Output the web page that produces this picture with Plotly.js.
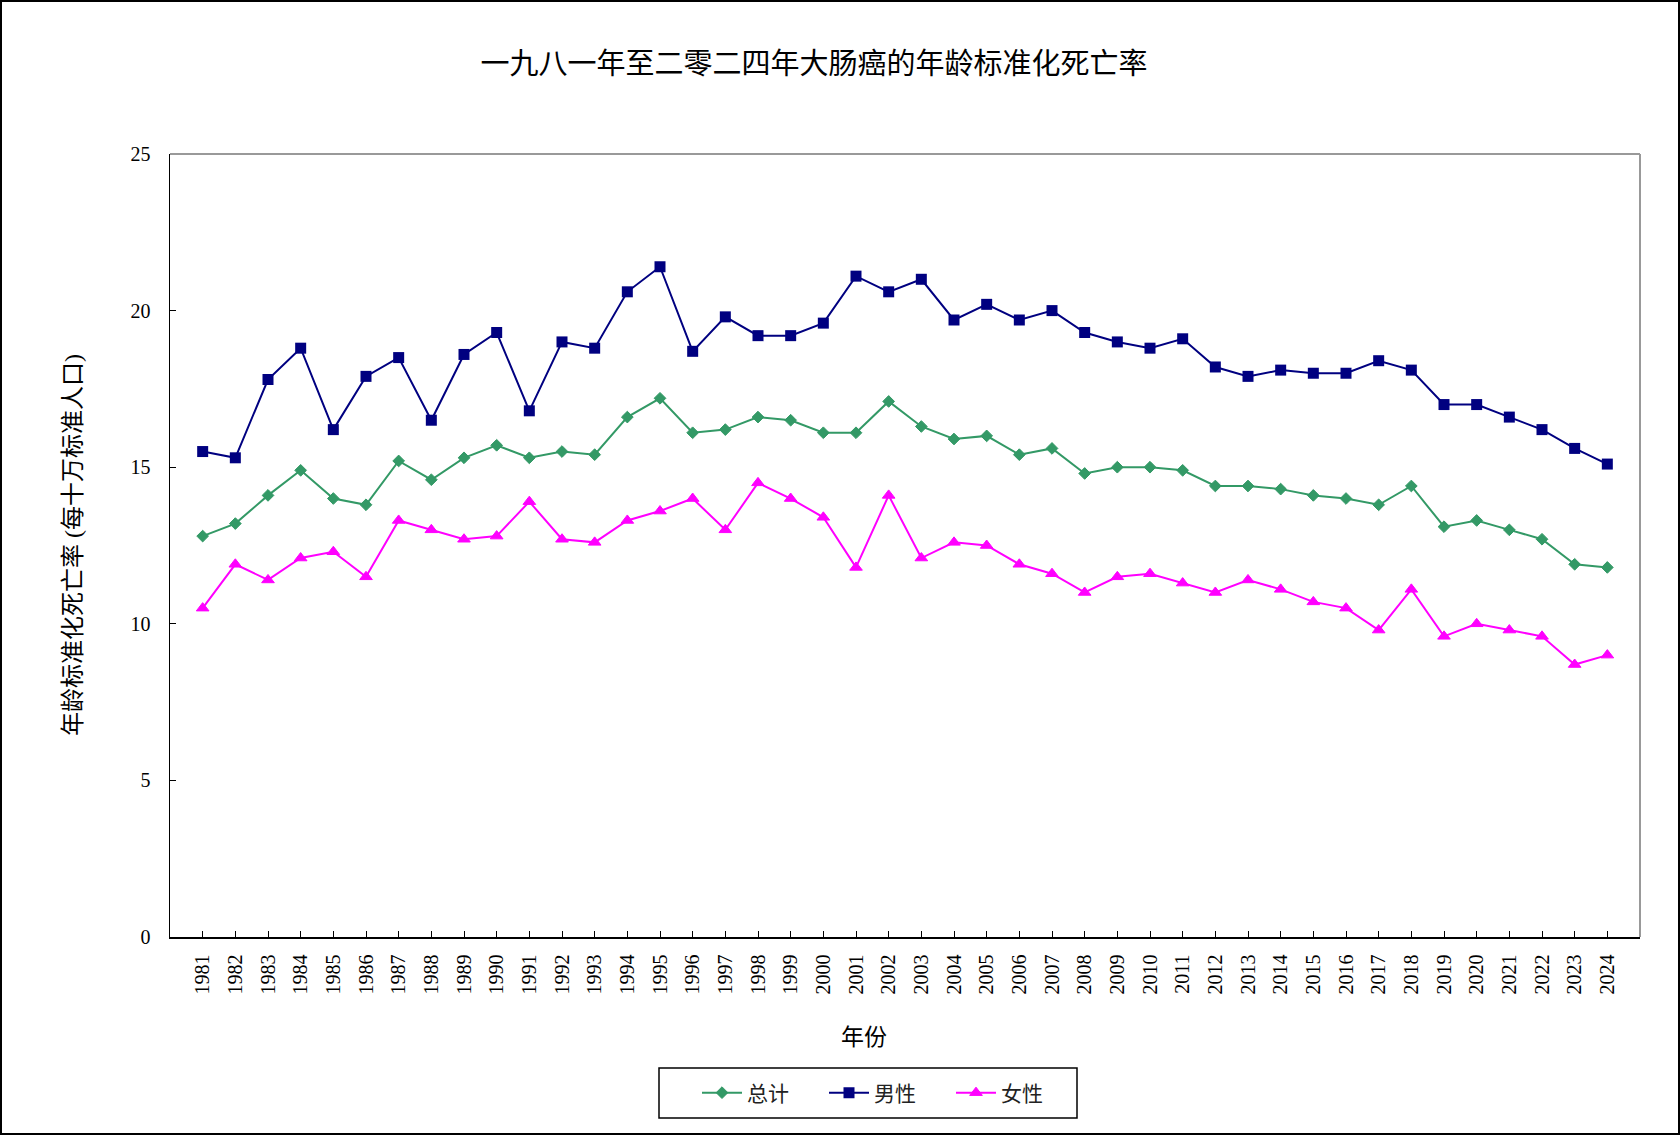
<!DOCTYPE html>
<html>
<head>
<meta charset="utf-8">
<script src="https://cdn.plot.ly/plotly-3.0.1.min.js"></script>
<style>
  html, body { margin: 0; padding: 0; background: #fff; }
  #chart { width: 1680px; height: 1135px; }
</style>
</head>
<body>
<div id="chart"></div>
<script>
// ---- Data ----
const years = ["1981","1982","1983","1984","1985","1986","1987","1988","1989","1990",
  "1991","1992","1993","1994","1995","1996","1997","1998","1999","2000",
  "2001","2002","2003","2004","2005","2006","2007","2008","2009","2010",
  "2011","2012","2013","2014","2015","2016","2017","2018","2019","2020",
  "2021","2022","2023","2024"];

const totalRates = [12.8,13.2,14.1,14.9,14.0,13.8,15.2,14.6,15.3,15.7,
  15.3,15.5,15.4,16.6,17.2,16.1,16.2,16.6,16.5,16.1,
  16.1,17.1,16.3,15.9,16.0,15.4,15.6,14.8,15.0,15.0,
  14.9,14.4,14.4,14.3,14.1,14.0,13.8,14.4,13.1,13.3,
  13.0,12.7,11.9,11.8];

const maleRates = [15.5,15.3,17.8,18.8,16.2,17.9,18.5,16.5,18.6,19.3,
  16.8,19.0,18.8,20.6,21.4,18.7,19.8,19.2,19.2,19.6,
  21.1,20.6,21.0,19.7,20.2,19.7,20.0,19.3,19.0,18.8,
  19.1,18.2,17.9,18.1,18.0,18.0,18.4,18.1,17.0,17.0,
  16.6,16.2,15.6,15.1];

const femaleRates = [10.5,11.9,11.4,12.1,12.3,11.5,13.3,13.0,12.7,12.8,
  13.9,12.7,12.6,13.3,13.6,14.0,13.0,14.5,14.0,13.4,
  11.8,14.1,12.1,12.6,12.5,11.9,11.6,11.0,11.5,11.6,
  11.3,11.0,11.4,11.1,10.7,10.5,9.8,11.1,9.6,10.0,
  9.8,9.6,8.7,9.0];

const seriesNames = ["总计", "男性", "女性"];
const yTickValues = [0, 5, 10, 15, 20, 25];

const titleText = "一九八一年至二零二四年大肠癌的年龄标准化死亡率";
const xTitleText = "年份";
const yTitleText = "年龄标准化死亡率 (每十万标准人口)";

// ---- Layout geometry ----
const W = 1680, H = 1135;
const M = { l: 170, r: 40, t: 154, b: 198 };
const PW = W - M.l - M.r, PH = H - M.t - M.b;
const px2x = px => (px - M.l) / PW;
const py2y = py => (H - M.b - py) / PH;

const FONT_SERIF = "'Liberation Serif', 'Times New Roman', 'Noto Sans CJK SC', serif";
const FONT_CJK = "'Liberation Serif', 'Noto Sans CJK SC', sans-serif";

const traces = [
  { x: years, y: totalRates, name: seriesNames[0], type: "scatter", mode: "lines+markers",
    line: { color: "#339966", width: 2 },
    marker: { symbol: "diamond", size: 9, color: "#339966", line: { color: "#339966", width: 1 } } },
  { x: years, y: maleRates, name: seriesNames[1], type: "scatter", mode: "lines+markers",
    line: { color: "#000080", width: 2 },
    marker: { symbol: "square", size: 11, color: "#000080" } },
  { x: years, y: femaleRates, name: seriesNames[2], type: "scatter", mode: "lines+markers",
    line: { color: "#FF00FF", width: 2 },
    marker: { symbol: "triangle-up", size: 11, color: "#FF00FF", line: { color: "#FF00FF", width: 1 } } }
];

const layout = {
  width: W, height: H,
  margin: M,
  paper_bgcolor: "#ffffff",
  plot_bgcolor: "#ffffff",
  showlegend: true,
  title: {
    text: titleText,
    font: { family: FONT_CJK, size: 29, color: "#000" },
    xref: "container", yref: "container",
    x: 814 / W, xanchor: "center",
    y: 1 - 64 / H, yanchor: "middle"
  },
  xaxis: {
    type: "category",
    range: [-1, years.length],
    tickangle: -90,
    ticks: "inside", ticklen: 6, tickwidth: 1, tickcolor: "#000",
    ticklabelstandoff: 8,
    tickfont: { family: FONT_SERIF, size: 20, color: "#000" },
    showline: true, linecolor: "#000", linewidth: 1.5,
    showgrid: false, zeroline: false, fixedrange: true
  },
  yaxis: {
    range: [0, 25],
    tickmode: "array", tickvals: yTickValues, ticktext: yTickValues.map(String),
    ticks: "inside", ticklen: 6, tickwidth: 1, tickcolor: "#000",
    ticklabelstandoff: 14,
    tickfont: { family: FONT_SERIF, size: 20, color: "#000" },
    showline: true, linecolor: "#000", linewidth: 1.5,
    showgrid: false, zeroline: false, fixedrange: true
  },
  legend: {
    orientation: "h",
    xref: "container", yref: "container",
    x: 697 / W, xanchor: "left",
    y: 1 - 1093 / H, yanchor: "middle",
    bgcolor: "rgba(0,0,0,0)",
    borderwidth: 0,
    itemwidth: 40,
    entrywidth: 72,
    font: { family: FONT_CJK, size: 21, color: "#222" }
  },
  annotations: [
    { text: xTitleText, xref: "paper", yref: "paper",
      x: px2x(864), y: py2y(1037), xanchor: "center", yanchor: "middle",
      showarrow: false, font: { family: FONT_CJK, size: 23, color: "#000" } },
    { text: yTitleText, xref: "paper", yref: "paper",
      x: px2x(73), y: py2y(545), xanchor: "center", yanchor: "middle",
      textangle: -90,
      showarrow: false, font: { family: FONT_CJK, size: 24, color: "#000" } }
  ],
  shapes: [
    // plot area frame (top & right, gray)
    { type: "line", xref: "paper", yref: "paper", x0: 0, x1: 1, y0: 1, y1: 1,
      line: { color: "#999999", width: 2 }, layer: "below" },
    { type: "line", xref: "paper", yref: "paper", x0: 1, x1: 1, y0: 0, y1: 1,
      line: { color: "#999999", width: 2 }, layer: "below" },
    // legend box
    { type: "rect", xref: "paper", yref: "paper",
      x0: px2x(659), x1: px2x(1077), y0: py2y(1068), y1: py2y(1118),
      line: { color: "#000", width: 1.5 }, fillcolor: "rgba(0,0,0,0)" },
    // outer chart border
    { type: "rect", xref: "paper", yref: "paper",
      x0: px2x(1), x1: px2x(W - 1), y0: py2y(1), y1: py2y(H - 1),
      line: { color: "#000", width: 2 }, fillcolor: "rgba(0,0,0,0)" }
  ]
};

Plotly.newPlot("chart", traces, layout, { displayModeBar: false, staticPlot: true });
</script>
</body>
</html>
